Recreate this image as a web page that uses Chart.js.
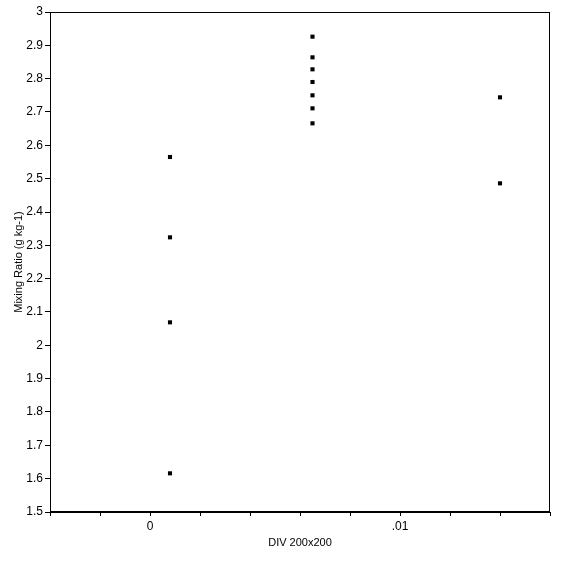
<!DOCTYPE html>
<html>
<head>
<meta charset="utf-8">
<script src="https://cdn.jsdelivr.net/npm/chart.js@4/dist/chart.umd.min.js"></script>
<style>
  html, body { margin: 0; padding: 0; background: #fff; }
  #wrap { width: 563px; height: 563px; }
</style>
</head>
<body>
<div id="wrap"><canvas id="grafico"></canvas></div>
<script>
// valores (x = DIV 200x200, y = Mixing Ratio)
const xValores = [0.0008, 0.0008, 0.0008, 0.0008,
                  0.0065, 0.0065, 0.0065, 0.0065, 0.0065, 0.0065, 0.0065,
                  0.014, 0.014];
const yValores = [2.565, 2.324, 2.069, 1.616,
                  2.926, 2.864, 2.828, 2.790, 2.750, 2.711, 2.666,
                  2.744, 2.486];
const tituloX = 'DIV 200x200';
const tituloY = 'Mixing Ratio (g kg-1)';
const etiquetasX = { '0': '0', '0.01': '.01' };

const puntos = xValores.map((x, i) => ({ x: x, y: yValores[i] }));

// marco alrededor del area del grafico
const marco = {
  id: 'marco',
  afterDraw(chart) {
    const a = chart.chartArea;
    const ctx = chart.ctx;
    ctx.save();
    ctx.strokeStyle = '#000';
    ctx.lineWidth = 1;
    ctx.strokeRect(Math.round(a.left) + 0.5, Math.round(a.top) + 0.5,
                   Math.round(a.right - a.left) - 1, Math.round(a.bottom - a.top) - 1);
    ctx.restore();
  }
};

const fuente = { family: '"Liberation Sans", Arial, sans-serif', size: 12 };

new Chart(document.getElementById('grafico'), {
  type: 'scatter',
  data: {
    datasets: [{
      data: puntos,
      pointStyle: 'rect',
      pointRadius: 2.9,
      pointBorderWidth: 0,
      backgroundColor: '#000',
      borderColor: '#000'
    }]
  },
  options: {
    responsive: true,
    maintainAspectRatio: false,
    animation: false,
    layout: { padding: { left: 0, top: 12, right: 13, bottom: 0 } },
    plugins: { legend: { display: false }, tooltip: { enabled: false } },
    scales: {
      x: {
        type: 'linear',
        min: -0.004,
        max: 0.016,
        afterFit(s) { s.height = 51; },
        border: { color: '#000', width: 1 },
        grid: { drawOnChartArea: false, drawTicks: true, tickLength: 4, color: '#000' },
        ticks: {
          stepSize: 0.002,
          autoSkip: false,
          maxRotation: 0,
          padding: 3,
          color: '#000',
          font: fuente,
          callback: (v) => {
            const k = String(Math.round(v * 1000) / 1000);
            return etiquetasX[k] !== undefined ? etiquetasX[k] : '';
          }
        },
        title: {
          display: true,
          text: tituloX,
          color: '#000',
          font: { family: fuente.family, size: 11 },
          padding: { top: 0, bottom: 13 }
        }
      },
      y: {
        type: 'linear',
        min: 1.5,
        max: 3,
        afterFit(s) { s.width = 50; },
        border: { color: '#000', width: 1 },
        grid: { drawOnChartArea: false, drawTicks: true, tickLength: 5, color: '#000' },
        ticks: {
          stepSize: 0.1,
          padding: 2,
          color: '#000',
          font: fuente,
          callback: (v) => String(+v.toFixed(1))
        },
        title: {
          display: true,
          text: tituloY,
          color: '#000',
          font: { family: fuente.family, size: 11 },
          padding: { top: 12, bottom: 0 }
        }
      }
    }
  },
  plugins: [marco]
});
</script>
</body>
</html>
